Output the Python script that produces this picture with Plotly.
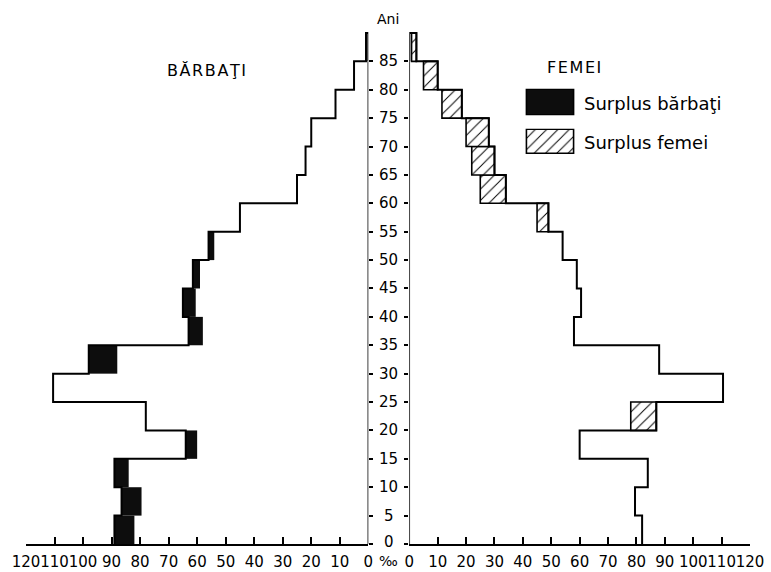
import plotly.graph_objects as go

# ---- data (values in per mille) ----
age_lower = [0, 5, 10, 15, 20, 25, 30, 35, 40, 45, 50, 55, 60, 65, 70, 75, 80, 85]
male =   [89, 86.5, 89, 64, 78, 110.5, 98, 63, 65, 61.5, 56, 45, 25, 22, 20, 11.5, 5, 0.8]
female = [82, 79.5, 84, 60, 87, 110.5, 88, 58, 60.5, 59, 54, 49, 34, 30, 28, 18.5, 10, 2.5]
age_ticks = [0, 5, 10, 15, 20, 25, 30, 35, 40, 45, 50, 55, 60, 65, 70, 75, 80, 85]
x_ticks = [0, 10, 20, 30, 40, 50, 60, 70, 80, 90, 100, 110, 120]
x_ticklabels = ["0", "10", "20", "30", "40", "50", "60", "70", "80", "90", "100", "110", "120"]
group_width = 5

FONT = "DejaVu Sans"
W, H = 771, 572
B = 28
PH = H - B
px_per_year = 5.678
y_top = PH / px_per_year

def px(x):
    return x / W

def py(y):
    return (PH - y) / PH

centers = [a + group_width / 2 for a in age_lower]

def outline(values):
    top = age_lower[-1] + group_width
    xs, ys = [0, 0], [age_lower[-1], top]
    for a, v in zip(reversed(age_lower), reversed(values)):
        xs += [v, v]
        ys += [a + group_width, a]
    return xs, ys

fig = go.Figure()

mb_y, mb_x, mb_base = [], [], []
fh_y, fh_x, fh_base = [], [], []
for c, m, f in zip(centers, male, female):
    if m > f:
        mb_y.append(c); mb_x.append(m - f); mb_base.append(f)
    elif f > m:
        fh_y.append(c); fh_x.append(f - m); fh_base.append(m)

# male surplus (black)
fig.add_trace(go.Bar(y=mb_y, x=mb_x, base=mb_base, orientation="h", width=group_width,
                     marker=dict(color="#0d0d0d", line=dict(width=0)),
                     xaxis="x", yaxis="y", showlegend=False, hoverinfo="skip"))
# female surplus (hatched)
fig.add_trace(go.Bar(y=fh_y, x=fh_x, base=fh_base, orientation="h", width=group_width,
                     marker=dict(color="white",
                                 pattern=dict(shape="/", fgcolor="black", bgcolor="white",
                                              size=8, solidity=0.12),
                                 line=dict(color="black", width=1.6)),
                     xaxis="x2", yaxis="y2", showlegend=False, hoverinfo="skip"))

lx, ly = outline(male)
fig.add_trace(go.Scatter(x=lx, y=ly, mode="lines", line=dict(color="black", width=2),
                         xaxis="x", yaxis="y", showlegend=False, hoverinfo="skip"))
rx, ry = outline(female)
fig.add_trace(go.Scatter(x=rx, y=ry, mode="lines", line=dict(color="black", width=2),
                         xaxis="x2", yaxis="y2", showlegend=False, hoverinfo="skip"))

# legend boxes as tiny bar subplots
fig.add_trace(go.Bar(x=[1], y=[0], base=[0], orientation="h", width=1,
                     marker=dict(color="#0d0d0d", line=dict(color="black", width=1.6)),
                     xaxis="x3", yaxis="y3", showlegend=False, hoverinfo="skip"))
fig.add_trace(go.Bar(x=[1], y=[0], base=[0], orientation="h", width=1,
                     marker=dict(color="white",
                                 pattern=dict(shape="/", fgcolor="black", bgcolor="white",
                                              size=8, solidity=0.12),
                                 line=dict(color="black", width=1.6)),
                     xaxis="x4", yaxis="y4", showlegend=False, hoverinfo="skip"))

axis_common = dict(showgrid=False, zeroline=False, showline=True, linecolor="black",
                   linewidth=1.5, ticks="inside", ticklen=7, tickwidth=1.5, tickcolor="black",
                   tickvals=x_ticks, ticktext=x_ticklabels, tickangle=0, automargin=False,
                   tickfont=dict(family=FONT, size=15, color="black"),
                   ticklabelstandoff=3, fixedrange=True)
yax_common = dict(showgrid=False, zeroline=False, showline=False, ticks="outside",
                  ticklen=4, tickwidth=1.5, tickcolor="black", tickvals=age_ticks,
                  showticklabels=False, range=[0, y_top], domain=[0, 1], fixedrange=True,
                  automargin=False)
hidden = dict(visible=False, fixedrange=True, automargin=False)

fig.update_layout(
    template="none",
    width=W, height=H,
    margin=dict(l=0, r=0, t=0, b=B, pad=0),
    paper_bgcolor="white", plot_bgcolor="rgba(0,0,0,0)",
    barmode="overlay",
    xaxis=dict(domain=[px(26), px(368.3)], range=[120, 0], anchor="y", **axis_common),
    xaxis2=dict(domain=[px(409.3), px(750)], range=[0, 120], anchor="y2", **axis_common),
    yaxis=dict(anchor="x", side="right", **yax_common),
    yaxis2=dict(anchor="x2", side="left", matches="y", **yax_common),
    xaxis3=dict(domain=[px(525), px(575)], range=[-0.03, 1.03], anchor="y3", **hidden),
    yaxis3=dict(domain=[py(115.5), py(88.5)], range=[-0.53, 0.53], anchor="x3", **hidden),
    xaxis4=dict(domain=[px(525), px(575)], range=[-0.03, 1.03], anchor="y4", **hidden),
    yaxis4=dict(domain=[py(154), py(128.5)], range=[-0.53, 0.53], anchor="x4", **hidden),
)

# central age axis lines
fig.add_shape(type="line", xref="x", yref="y", x0=0, x1=0, y0=0, y1=age_ticks[-1],
              line=dict(color="black", width=1.5))
fig.add_shape(type="line", xref="x2", yref="y2", x0=0, x1=0, y0=0, y1=age_ticks[-1],
              line=dict(color="black", width=1.5))

ann = []
for a in age_ticks:
    ann.append(dict(x=px(388.5), y=a, xref="paper", yref="y", text=str(a), showarrow=False,
                    xanchor="center", yanchor="middle", yshift=2 if a == 0 else 0,
                    font=dict(family=FONT, size=15, color="black")))
ann.append(dict(x=px(388), y=py(19), xref="paper", yref="paper", text="Ani", showarrow=False,
                xanchor="center", yanchor="middle", font=dict(family=FONT, size=14, color="black")))
ann.append(dict(x=px(388), y=py(561), xref="paper", yref="paper", text="‰", showarrow=False,
                xanchor="center", yanchor="middle", font=dict(family=FONT, size=14, color="black")))
ann.append(dict(x=px(206), y=py(70), xref="paper", yref="paper",
                text="\u200a".join("BĂRBAŢI"),
                showarrow=False, xanchor="center", yanchor="middle",
                font=dict(family=FONT, size=16, color="black")))
ann.append(dict(x=px(574), y=py(67), xref="paper", yref="paper",
                text="\u200a".join("FEMEI"),
                showarrow=False, xanchor="center", yanchor="middle",
                font=dict(family=FONT, size=16, color="black")))
ann.append(dict(x=px(582), y=py(103), xref="paper", yref="paper", text="Surplus bărbaţi",
                showarrow=False, xanchor="left", yanchor="middle",
                font=dict(family=FONT, size=18, color="black")))
ann.append(dict(x=px(582), y=py(143), xref="paper", yref="paper", text="Surplus femei",
                showarrow=False, xanchor="left", yanchor="middle",
                font=dict(family=FONT, size=18, color="black")))
fig.update_layout(annotations=ann)

fig.write_html("out.html", config={"displayModeBar": False},
               post_script="document.body.style.margin='0';document.body.style.overflow='hidden';")
